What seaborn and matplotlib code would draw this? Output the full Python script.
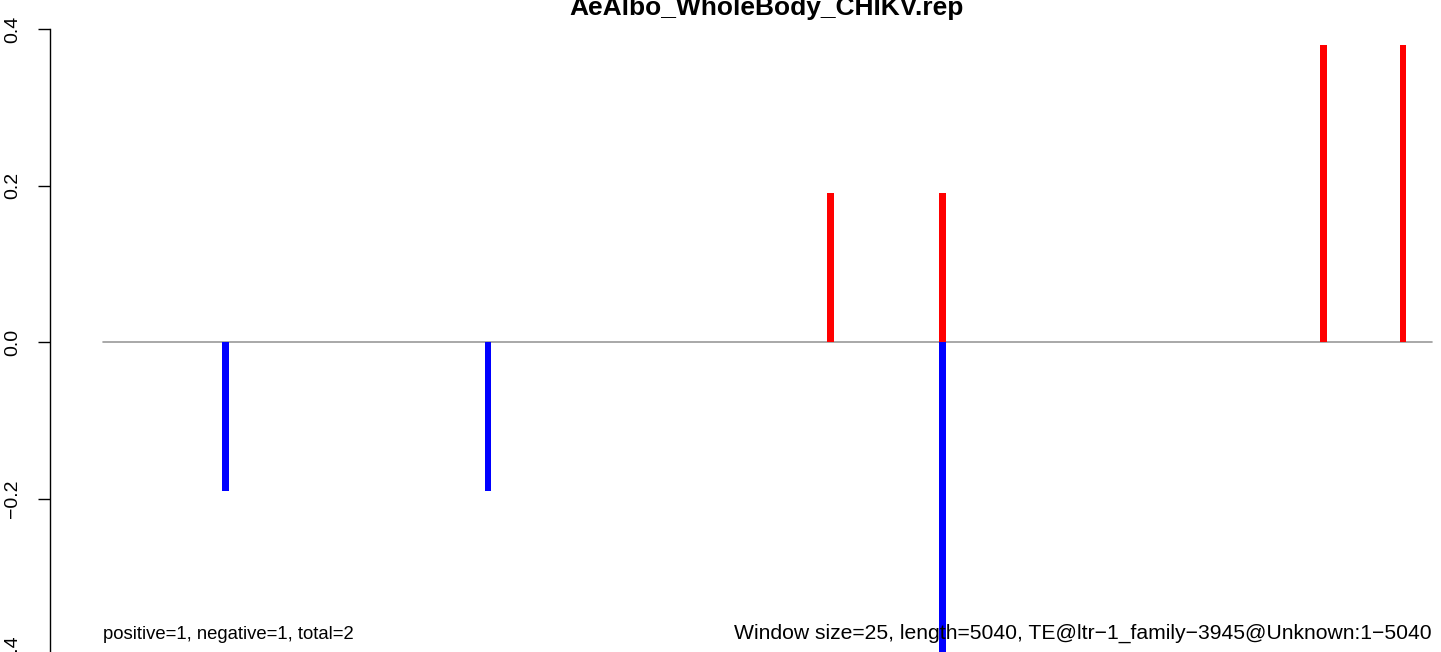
import pandas as pd
import seaborn as sns
import matplotlib
matplotlib.use("Agg")
import matplotlib.pyplot as plt

# window positions (bp) and scores
positions = [465, 1460, 2760, 3185, 3185, 4630, 4930]
scores = [-0.19, -0.19, 0.19, 0.19, -0.57, 0.38, 0.38]
seq_length = 5040
title = "AeAlbo_WholeBody_CHIKV.rep"
left_note = "positive=1, negative=1, total=2"
right_note = "Window size=25, length=5040, TE@ltr\u22121_family\u22123945@Unknown:1\u22125040"
yticks = [-0.4, -0.2, 0.0, 0.2, 0.4]

df = pd.DataFrame({"pos": positions, "score": scores})
df["sign"] = ["pos" if s > 0 else "neg" for s in df["score"]]

sns.set_style("white")
plt.rcParams["font.family"] = ["Liberation Sans", "DejaVu Sans"]
plt.rcParams["text.color"] = "black"
plt.rcParams["ytick.color"] = "black"

fig = plt.figure(figsize=(14.41, 6.52), dpi=100)
W, H = 1441, 652
# plot region in pixels: y axis spine at x=50; 0.4 at y=29, -0.4 at y=655
ax = fig.add_axes([50 / W, 1 - 655 / H, (W - 50) / W, (655 - 29) / H])

px_per_bp = (1432 - 103) / seq_length
xmin = -(103 - 50) / px_per_bp
xmax = (W - 103) / px_per_bp

for sign, col in [("pos", "red"), ("neg", "blue")]:
    sub = df[df["sign"] == sign]
    ax.bar(sub["pos"], sub["score"], width=26, color=col, linewidth=0, zorder=3)

ax.plot([0, seq_length], [0, 0], color="#9a9a9a", lw=1.2, zorder=2)

ax.set_xlim(xmin, xmax)
ax.set_ylim(-0.4, 0.4)
ax.set_xticks([])
ax.set_yticks(yticks)
ax.set_yticklabels([f"{t:.1f}".replace("-", "\u2212") for t in yticks],
                   rotation=90, va="center", fontsize=14, color="black")
ax.tick_params(axis="y", direction="out", length=8.6, width=1, color="black", pad=12, left=True)
for s in ["top", "right", "bottom"]:
    ax.spines[s].set_visible(False)
ax.spines["left"].set_color("black")
ax.spines["left"].set_linewidth(1)
ax.patch.set_alpha(0)

fig.text(767 / W, 1 - 15 / H, title, ha="center", va="baseline",
         fontsize=19, fontweight="bold", color="black")
fig.text(103 / W, 1 - 639 / H, left_note, ha="left", va="baseline", fontsize=13.3, color="black")
fig.text(1432 / W, 1 - 639 / H, right_note, ha="right", va="baseline", fontsize=15.2, color="black")

fig.savefig("out.png", dpi=100)
